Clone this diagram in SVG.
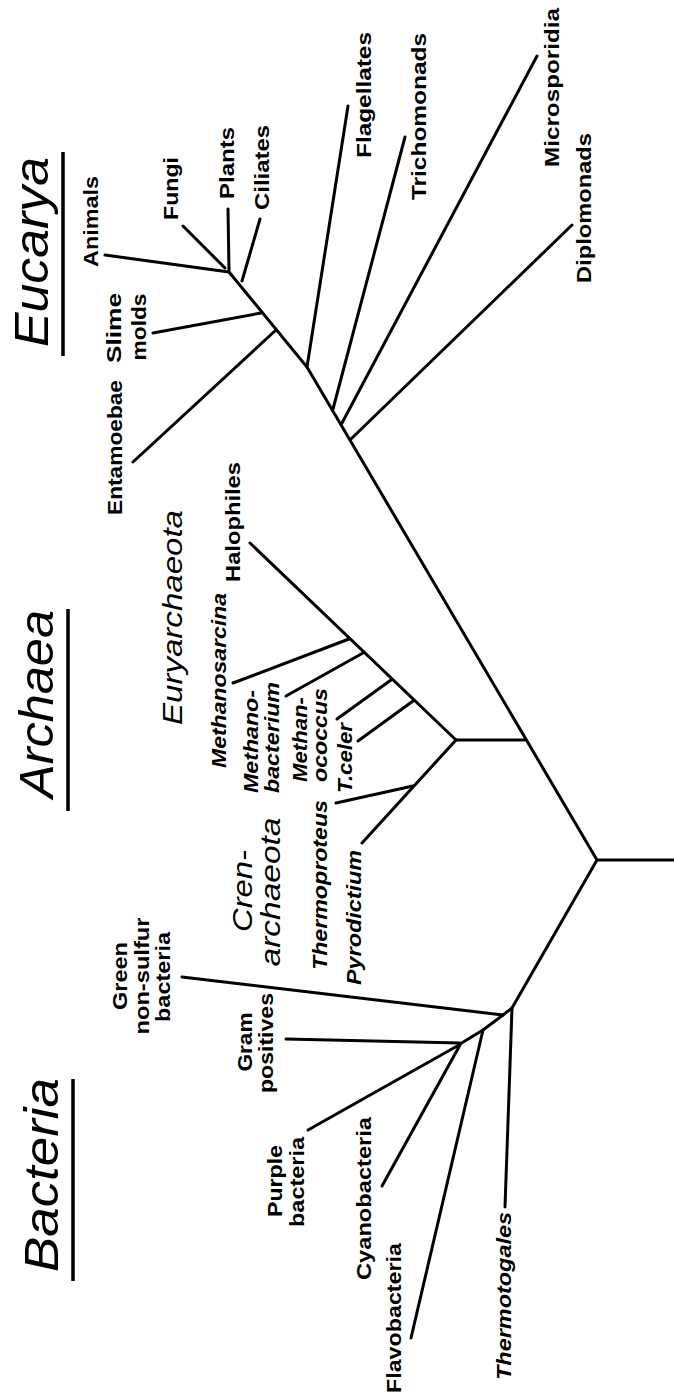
<svg xmlns="http://www.w3.org/2000/svg" width="674" height="1398" viewBox="0 0 674 1398">
<style>
  .e{stroke:#000;stroke-width:3;stroke-linecap:round;fill:none}
  .u{stroke:#000;stroke-width:3.5;stroke-linecap:butt}
  text{font-family:"Liberation Sans",Arial,Helvetica,sans-serif;fill:#000}
  .b{font-weight:bold;font-size:21px}
  .bi{font-weight:bold;font-style:italic;font-size:20px}
  .dom{font-style:italic;font-size:49px}
  .sub{font-style:italic;font-size:28px}
  .m{text-anchor:middle}
</style>
<rect width="674" height="1398" fill="#fff"/>
<g id="connectors">
  <!-- root -->
  <line class="e" x1="597" y1="860" x2="674" y2="860"/>
  <!-- eukarya trunk -->
  <polyline class="e" points="597,860 307,367 229,272"/>
  <line class="e" x1="229" y1="272" x2="105" y2="255"/>
  <line class="e" x1="225" y1="268" x2="183" y2="226"/>
  <line class="e" x1="229" y1="270" x2="228" y2="209"/>
  <line class="e" x1="242" y1="281" x2="260" y2="219"/>
  <line class="e" x1="261" y1="313" x2="153" y2="333"/>
  <line class="e" x1="276" y1="330" x2="133" y2="462"/>
  <line class="e" x1="307" y1="367" x2="348" y2="106"/>
  <line class="e" x1="333" y1="409" x2="405" y2="137"/>
  <line class="e" x1="342" y1="423" x2="537" y2="56"/>
  <line class="e" x1="351" y1="439" x2="572" y2="225"/>
  <!-- archaea -->
  <line class="e" x1="456" y1="740" x2="525" y2="740"/>
  <line class="e" x1="456" y1="740" x2="250" y2="543"/>
  <line class="e" x1="349" y1="639" x2="233" y2="683"/>
  <line class="e" x1="363" y1="653" x2="286" y2="696"/>
  <line class="e" x1="391" y1="680" x2="337" y2="719"/>
  <line class="e" x1="413" y1="701" x2="358" y2="741"/>
  <line class="e" x1="456" y1="740" x2="362" y2="843"/>
  <line class="e" x1="413" y1="786" x2="336" y2="803"/>
  <!-- bacteria -->
  <polyline class="e" points="597,860 512,1008 503,1015 483,1030 460,1044"/>
  <line class="e" x1="512" y1="1008" x2="505" y2="1207"/>
  <line class="e" x1="503" y1="1015" x2="182" y2="977"/>
  <line class="e" x1="483" y1="1030" x2="411" y2="1338"/>
  <line class="e" x1="460" y1="1043" x2="286" y2="1039"/>
  <line class="e" x1="459" y1="1045" x2="308" y2="1130"/>
  <line class="e" x1="460" y1="1045" x2="382" y2="1186"/>
</g>
<g id="eucarya">
  <text class="dom" transform="translate(48,347) rotate(-90)" textLength="190" lengthAdjust="spacingAndGlyphs">Eucarya</text>
  <line class="u" x1="63" y1="152" x2="63" y2="356"/>
</g>
<g id="archaea">
  <text class="dom" transform="translate(53,798) rotate(-90)" textLength="188" lengthAdjust="spacingAndGlyphs">Archaea</text>
  <line class="u" x1="68" y1="609" x2="68" y2="811"/>
</g>
<g id="bacteria">
  <text class="dom" transform="translate(58,1272) rotate(-90)" textLength="194" lengthAdjust="spacingAndGlyphs">Bacteria</text>
  <line class="u" x1="73" y1="1079" x2="73" y2="1281"/>
</g>
<g id="animals"><text class="b" transform="translate(98,267) rotate(-90)" textLength="91" lengthAdjust="spacingAndGlyphs">Animals</text></g>
<g id="fungi"><text class="b" transform="translate(178,220) rotate(-90)" textLength="63" lengthAdjust="spacingAndGlyphs">Fungi</text></g>
<g id="plants"><text class="b" transform="translate(234,199) rotate(-90)" textLength="72" lengthAdjust="spacingAndGlyphs">Plants</text></g>
<g id="ciliates"><text class="b" transform="translate(269,210) rotate(-90)" textLength="85" lengthAdjust="spacingAndGlyphs">Ciliates</text></g>
<g id="slime-molds">
  <text class="b m" transform="translate(121,328) rotate(-90)" textLength="70" lengthAdjust="spacingAndGlyphs">Slime</text>
  <text class="b m" transform="translate(146,327) rotate(-90)" textLength="67" lengthAdjust="spacingAndGlyphs">molds</text>
</g>
<g id="entamoebae"><text class="b" transform="translate(122,515) rotate(-90)" textLength="135" lengthAdjust="spacingAndGlyphs">Entamoebae</text></g>
<g id="flagellates"><text class="b" transform="translate(371,158) rotate(-90)" textLength="126" lengthAdjust="spacingAndGlyphs">Flagellates</text></g>
<g id="trichomonads"><text class="b" transform="translate(426,200) rotate(-90)" textLength="167" lengthAdjust="spacingAndGlyphs">Trichomonads</text></g>
<g id="microsporidia"><text class="b" transform="translate(559,167) rotate(-90)" textLength="159" lengthAdjust="spacingAndGlyphs">Microsporidia</text></g>
<g id="diplomonads"><text class="b" transform="translate(591,283) rotate(-90)" textLength="150" lengthAdjust="spacingAndGlyphs">Diplomonads</text></g>
<g id="halophiles"><text class="b" transform="translate(240,582) rotate(-90)" textLength="120" lengthAdjust="spacingAndGlyphs">Halophiles</text></g>
<g id="euryarchaeota"><text class="sub" transform="translate(182,725) rotate(-90)" textLength="215" lengthAdjust="spacingAndGlyphs">Euryarchaeota</text></g>
<g id="methanosarcina"><text class="bi" transform="translate(226,768) rotate(-90)" textLength="175" lengthAdjust="spacingAndGlyphs">Methanosarcina</text></g>
<g id="methanobacterium">
  <text class="bi" transform="translate(258,793) rotate(-90)" textLength="103" lengthAdjust="spacingAndGlyphs">Methano-</text>
  <text class="bi" transform="translate(279,793) rotate(-90)" textLength="111" lengthAdjust="spacingAndGlyphs">bacterium</text>
</g>
<g id="methanococcus">
  <text class="bi" transform="translate(307,782) rotate(-90)" textLength="85" lengthAdjust="spacingAndGlyphs">Methan-</text>
  <text class="bi" transform="translate(327,782) rotate(-90)" textLength="94" lengthAdjust="spacingAndGlyphs">ococcus</text>
</g>
<g id="tceler"><text class="bi" transform="translate(352,793) rotate(-90)" textLength="70" lengthAdjust="spacingAndGlyphs">T.celer</text></g>
<g id="thermoproteus"><text class="bi" transform="translate(327,970) rotate(-90)" textLength="170" lengthAdjust="spacingAndGlyphs">Thermoproteus</text></g>
<g id="pyrodictium"><text class="bi" transform="translate(361,985) rotate(-90)" textLength="135" lengthAdjust="spacingAndGlyphs">Pyrodictium</text></g>
<g id="crenarchaeota">
  <text class="sub m" transform="translate(252,891) rotate(-90)" textLength="82" lengthAdjust="spacingAndGlyphs">Cren-</text>
  <text class="sub m" transform="translate(280,892) rotate(-90)" textLength="149" lengthAdjust="spacingAndGlyphs">archaeota</text>
</g>
<g id="green-non-sulfur">
  <text class="b m" transform="translate(127,976) rotate(-90)" textLength="68" lengthAdjust="spacingAndGlyphs">Green</text>
  <text class="b m" transform="translate(149,976) rotate(-90)" textLength="117" lengthAdjust="spacingAndGlyphs">non-sulfur</text>
  <text class="b m" transform="translate(170,977) rotate(-90)" textLength="90" lengthAdjust="spacingAndGlyphs">bacteria</text>
</g>
<g id="gram-positives">
  <text class="b m" transform="translate(252,1042) rotate(-90)" textLength="59" lengthAdjust="spacingAndGlyphs">Gram</text>
  <text class="b m" transform="translate(273,1043) rotate(-90)" textLength="100" lengthAdjust="spacingAndGlyphs">positives</text>
</g>
<g id="purple-bacteria">
  <text class="b m" transform="translate(282,1181) rotate(-90)" textLength="72" lengthAdjust="spacingAndGlyphs">Purple</text>
  <text class="b m" transform="translate(304,1182) rotate(-90)" textLength="90" lengthAdjust="spacingAndGlyphs">bacteria</text>
</g>
<g id="cyanobacteria"><text class="b" transform="translate(371,1280) rotate(-90)" textLength="163" lengthAdjust="spacingAndGlyphs">Cyanobacteria</text></g>
<g id="flavobacteria"><text class="b" transform="translate(401,1393) rotate(-90)" textLength="150" lengthAdjust="spacingAndGlyphs">Flavobacteria</text></g>
<g id="thermotogales"><text class="bi" transform="translate(511,1380) rotate(-90)" textLength="168" lengthAdjust="spacingAndGlyphs">Thermotogales</text></g>
</svg>
